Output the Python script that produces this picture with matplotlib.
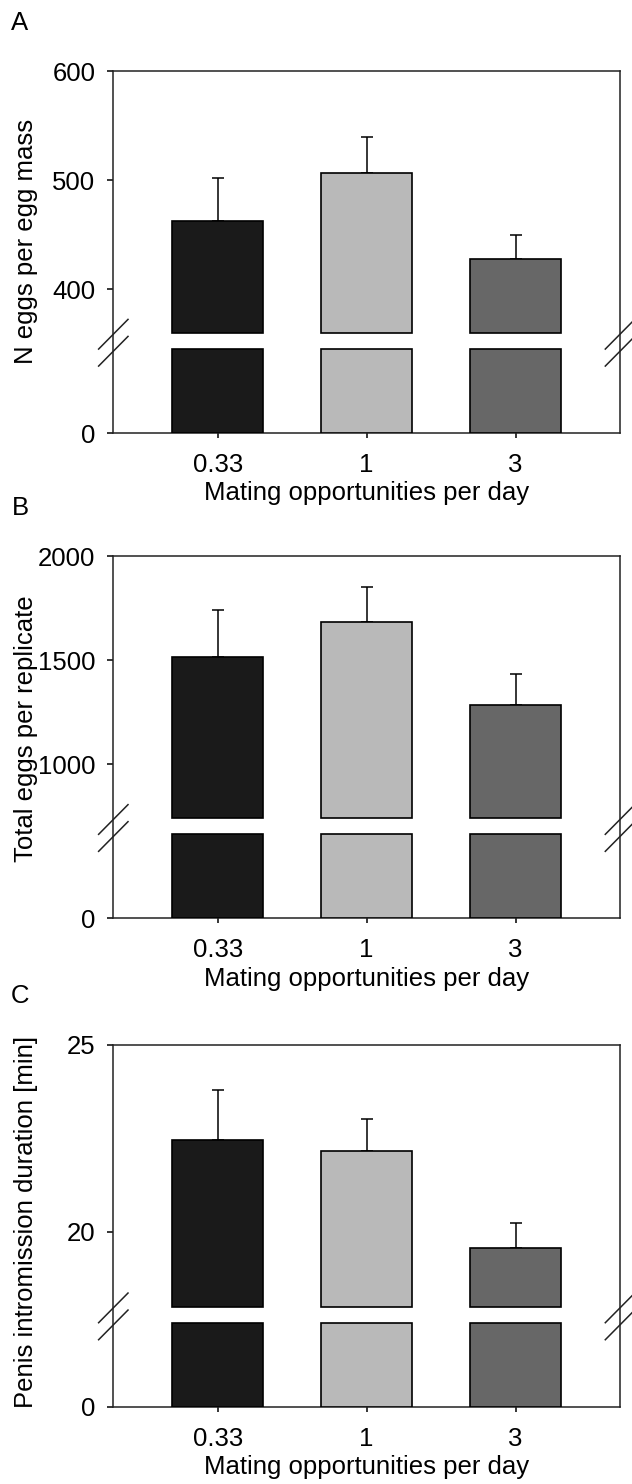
import numpy as np
import matplotlib
matplotlib.use("Agg")
import matplotlib.pyplot as plt

plt.rcParams["font.family"] = ["Liberation Sans", "DejaVu Sans"]
plt.rcParams["font.size"] = 18.5

# data
categories = ["0.33", "1", "3"]
bar_colors = ["#1a1a1a", "#b9b9b9", "#676767"]

eggs_per_mass = [463, 507, 428]
eggs_per_mass_err = [39, 33, 22]

eggs_per_rep = [1518, 1682, 1285]
eggs_per_rep_err = [224, 169, 148]

intromission = [22.46, 22.16, 19.58]
intromission_err = [1.32, 0.86, 0.66]

panels = [
    # label, values, errors, ylabel, ticks, top, lower cut, upper cut
    ("A", eggs_per_mass, eggs_per_mass_err, "N eggs per egg mass",
     [0, 400, 500, 600], 600, 345, 360),
    ("B", eggs_per_rep, eggs_per_rep_err, "Total eggs per replicate",
     [0, 1000, 1500, 2000], 2000, 670, 740),
    ("C", intromission, intromission_err, "Penis intromission duration [min]",
     [0, 20, 25], 25, 17.6, 18),
]

# fractions of the axis height: lower stub and start of the upper part
f_low = 0.232
f_up = 0.276


def make_scale(lo, hi, top):
    xs = [-top, 0, lo, hi, top, 2 * top]
    k_up = (1 - f_up) / (top - hi)
    ys = [-f_low / lo * top, 0, f_low, f_up, 1, 1 + k_up * top]

    def fwd(v):
        return np.interp(v, xs, ys)

    def inv(y):
        return np.interp(y, ys, xs)

    return fwd, inv


fig = plt.figure(figsize=(6.32, 14.84), dpi=100)
bottoms = [0.7082, 0.3812, 0.0521]
label_y = [1 - 23 / 1484, 1 - 508 / 1484, 1 - 996 / 1484]
ylab_y = [0.528, 0.523, 0.51]
x = np.arange(len(categories))
width = 0.61

for i, (lab, vals, errs, ylab, ticks, top, lo, hi) in enumerate(panels):
    ax = fig.add_axes([0.1793, bottoms[i], 0.8017, 0.2439])
    fwd, inv = make_scale(lo, hi, top)
    ax.set_yscale("function", functions=(fwd, inv))
    ax.set_ylim(0, top)
    ax.set_xlim(-0.70, 2.70)

    vals = np.array(vals, dtype=float)
    # lower stub and upper part of each bar
    ax.bar(x, lo, width, color=bar_colors, edgecolor="black", linewidth=1.2, zorder=3)
    ax.bar(x, vals - hi, width, bottom=hi, color=bar_colors, edgecolor="black",
           linewidth=1.2, zorder=3)
    ax.errorbar(x, vals, yerr=[np.zeros(len(vals)), errs], fmt="none",
                ecolor="black", elinewidth=1.1, capsize=4.5, capthick=1.1, zorder=2)

    ax.set_yticks(ticks)
    ax.set_yticklabels([str(t) for t in ticks])
    ax.yaxis.set_minor_locator(matplotlib.ticker.NullLocator())
    ax.set_xticks(x)
    ax.set_xticklabels(categories)
    ax.tick_params(axis="y", direction="out", length=4, width=1.1, pad=9)
    ax.tick_params(axis="x", direction="out", length=3.5, width=1.1, pad=11)
    for s in ax.spines.values():
        s.set_linewidth(1.1)
        s.set_color("#222222")

    ax.set_xlabel("Mating opportunities per day", labelpad=3)
    ax.set_ylabel(ylab, va="center")
    ax.yaxis.set_label_coords(-0.172, ylab_y[i])

    # break marks on both sides of the frame
    dx, dy = 0.029, 0.041
    for xb in (0, 1):
        for yb in (f_low - 0.006, f_up - 0.003):
            ax.plot([xb - dx, xb + dx], [yb - dy, yb + dy], transform=ax.transAxes,
                    color="#222222", lw=1.1, clip_on=False)

    fig.text(20 / 632, label_y[i], lab, ha="center", va="center")

fig.savefig("out.png", dpi=100)
